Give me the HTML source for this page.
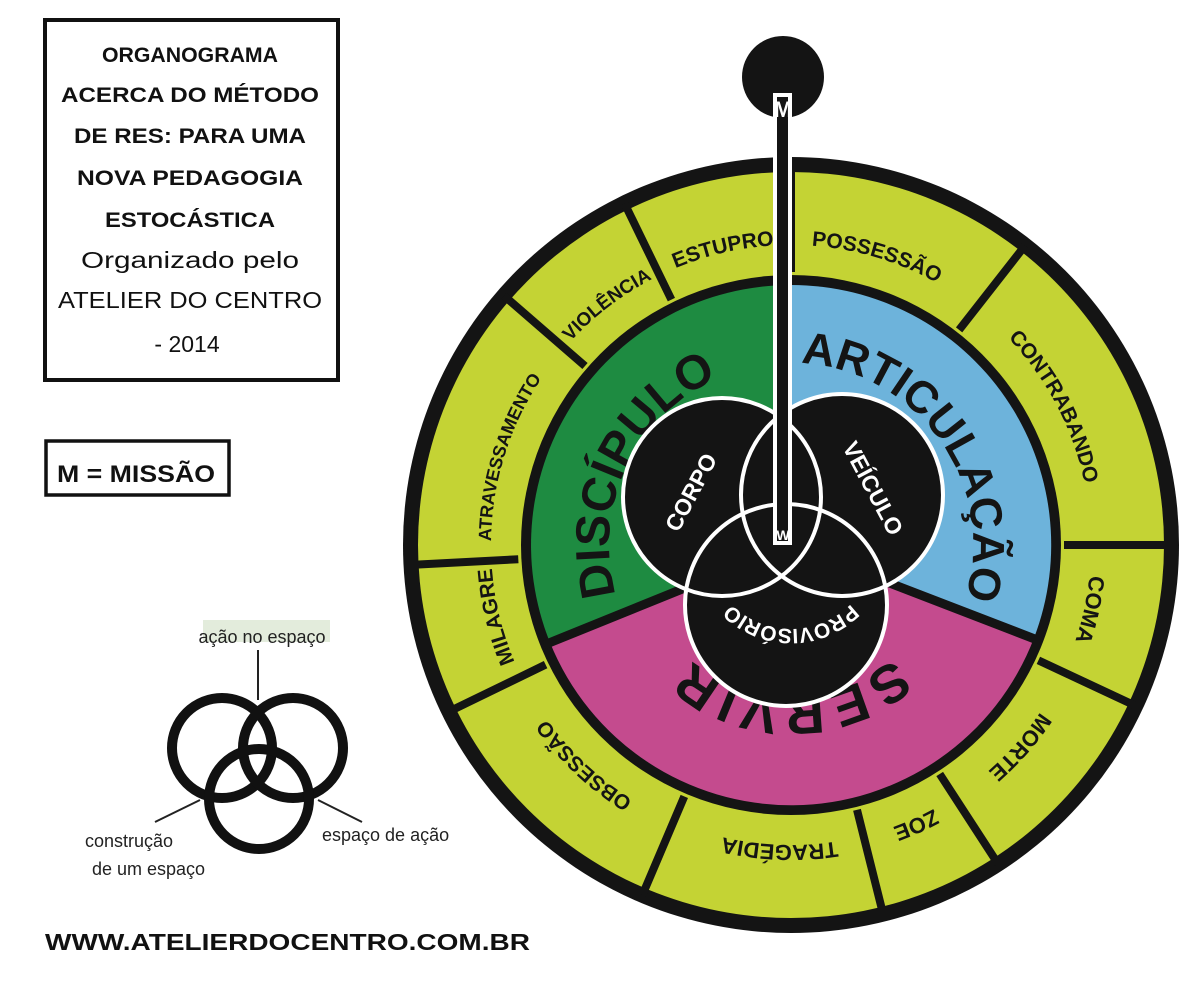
<!DOCTYPE html>
<html><head><meta charset="utf-8"><style>
html,body{margin:0;padding:0;background:#fff;}
svg{display:block;}
text{font-family:"Liberation Sans",sans-serif;}
</style></head><body>
<svg width="1200" height="982" viewBox="0 0 1200 982" xmlns="http://www.w3.org/2000/svg">
<defs>
<path id="r300" d="M1091,545 A300,300 0 1 1 491,545 A300,300 0 1 1 1091,545"/>
<path id="r300b" d="M491,545 A300,300 0 1 1 1091,545 A300,300 0 1 1 491,545"/>
<path id="r182" d="M973,545 A182,182 0 1 1 609,545 A182,182 0 1 1 973,545"/>
<path id="r182b" d="M609,545 A182,182 0 1 1 973,545 A182,182 0 1 1 609,545"/>
<path id="r152" d="M943,545 A152,152 0 1 1 639,545 A152,152 0 1 1 943,545"/>
<path id="r84" d="M875,545 A84,84 0 1 1 707,545 A84,84 0 1 1 875,545"/>
</defs>
<rect width="1200" height="982" fill="#fff"/>

<!-- Left title box -->
<rect x="45" y="20" width="293" height="360" fill="none" stroke="#111" stroke-width="4"/>
<g font-weight="bold" font-size="21" text-anchor="middle" fill="#111">
<text x="190" y="62" textLength="176" lengthAdjust="spacingAndGlyphs">ORGANOGRAMA</text>
<text x="190" y="102" textLength="258" lengthAdjust="spacingAndGlyphs">ACERCA DO MÉTODO</text>
<text x="190" y="143" textLength="232" lengthAdjust="spacingAndGlyphs">DE RES: PARA UMA</text>
<text x="190" y="185" textLength="226" lengthAdjust="spacingAndGlyphs">NOVA PEDAGOGIA</text>
<text x="190" y="227" textLength="170" lengthAdjust="spacingAndGlyphs">ESTOCÁSTICA</text>
</g>
<g font-size="23" text-anchor="middle" fill="#111">
<text x="190" y="268" textLength="218" lengthAdjust="spacingAndGlyphs">Organizado pelo</text>
<text x="190" y="308" textLength="264" lengthAdjust="spacingAndGlyphs">ATELIER DO CENTRO</text>
<text x="187" y="352">- 2014</text>
</g>
<rect x="46" y="441" width="183" height="54" fill="none" stroke="#111" stroke-width="3.5"/>
<text x="57" y="482" font-size="24" font-weight="bold" fill="#111" textLength="158" lengthAdjust="spacingAndGlyphs">M = MISSÃO</text>

<!-- small venn -->
<rect x="203" y="620" width="127" height="22" fill="#e3ecdc"/>
<text x="262" y="643" font-size="18" text-anchor="middle" fill="#222">ação no espaço</text>
<line x1="258" y1="650" x2="258" y2="700" stroke="#222" stroke-width="2"/>
<line x1="155" y1="822" x2="200" y2="800" stroke="#222" stroke-width="2"/>
<line x1="362" y1="822" x2="318" y2="800" stroke="#222" stroke-width="2"/>
<g fill="none" stroke="#111" stroke-width="10">
<circle cx="222" cy="748" r="50"/>
<circle cx="293" cy="748" r="50"/>
<circle cx="259" cy="799" r="50"/>
</g>
<g font-size="18" fill="#222">
<text x="85" y="847">construção</text>
<text x="92" y="875">de um espaço</text>
<text x="322" y="841">espaço de ação</text>
</g>
<text x="45" y="950" font-size="23" font-weight="bold" fill="#111" textLength="485" lengthAdjust="spacingAndGlyphs">WWW.ATELIERDOCENTRO.COM.BR</text>

<!-- Wheel -->
<circle cx="791" cy="545" r="388" fill="#141414"/>
<circle cx="791" cy="545" r="373" fill="#c4d334"/>
<circle cx="791" cy="545" r="270" fill="#141414"/>
<path d="M791,545 L550,642.5 A260,260 0 0 1 791,285 Z" fill="#1e8b41"/>
<path d="M791,545 L791,285 A260,260 0 0 1 1034,638 Z" fill="#6db3db"/>
<path d="M791,545 L1034,638 A260,260 0 0 1 550,642.5 Z" fill="#c44b8e"/>
<g stroke="#141414" stroke-width="9">
<line x1="791" y1="545" x2="544" y2="645"/>
<line x1="791" y1="545" x2="1040" y2="641"/>
</g>
<!-- radial lines in ring -->
<g stroke="#141414" stroke-width="8">
<line x1="671.4" y1="299.6" x2="624.5" y2="203.4"/>
<line x1="791" y1="272" x2="791" y2="165"/>
<line x1="959.1" y1="329.9" x2="1025" y2="245.6"/>
<line x1="1064" y1="545" x2="1171" y2="545"/>
<line x1="1038.4" y1="660.4" x2="1135.4" y2="705.7"/>
<line x1="939.7" y1="774" x2="998" y2="863.8"/>
<line x1="857" y1="809.8" x2="883" y2="913.6"/>
<line x1="684.3" y1="796.4" x2="642.4" y2="895"/>
<line x1="545.6" y1="664.6" x2="449.4" y2="711.4"/>
<line x1="518.3" y1="559.2" x2="411.5" y2="564.9"/>
<line x1="585" y1="366" x2="504" y2="295.7"/>
</g>
<!-- ring labels -->
<g font-size="21" font-weight="bold" fill="#141414" text-anchor="middle">
<text><textPath href="#r300" startOffset="71.4%">ESTUPRO</textPath></text>
<text><textPath href="#r300" startOffset="79.6%">POSSESSÃO</textPath></text>
<text><textPath href="#r300" startOffset="92.3%">CONTRABANDO</textPath></text>
<text font-size="22"><textPath href="#r300" startOffset="3.4%">COMA</textPath></text>
<text font-size="22"><textPath href="#r300" startOffset="11.5%">MORTE</textPath></text>
<text font-size="22"><textPath href="#r300" startOffset="18.3%">ZOE</textPath></text>
<text font-size="22"><textPath href="#r300" startOffset="25.6%">TRAGÉDIA</textPath></text>
<text><textPath href="#r300" startOffset="37%">OBSESSÃO</textPath></text>
<text><textPath href="#r300" startOffset="46.2%">MILAGRE</textPath></text>
<text font-size="18"><textPath href="#r300" startOffset="54.8%">ATRAVESSAMENTO</textPath></text>
<text font-size="19"><textPath href="#r300" startOffset="64.6%">VIOLÊNCIA</textPath></text>
</g>
<g font-size="48" font-weight="bold" fill="#141414" text-anchor="middle">
<text><textPath href="#r182" startOffset="57%">DISCÍPULO</textPath></text>
<text font-size="45"><textPath href="#r182b" startOffset="40.3%">ARTICULAÇÃO</textPath></text>
</g>
<text font-size="54" font-weight="bold" fill="#141414" text-anchor="middle" letter-spacing="4"><textPath href="#r152" startOffset="25%">SERVIR</textPath></text>

<!-- inner circles -->
<g fill="#141414">
<circle cx="722" cy="497" r="99"/>
<circle cx="842" cy="495" r="101"/>
<circle cx="786" cy="605" r="101"/>
</g>
<g fill="none" stroke="#fff" stroke-width="4">
<circle cx="722" cy="497" r="99"/>
<circle cx="842" cy="495" r="101"/>
<circle cx="786" cy="605" r="101"/>
</g>
<g font-size="23" font-weight="bold" fill="#fff" text-anchor="middle">
<text transform="translate(698,496) rotate(-62)">CORPO</text>
<text transform="translate(866,492) rotate(62)">VEÍCULO</text>
<text font-size="21"><textPath href="#r84" startOffset="25%">PROVISÓRIO</textPath></text>
</g>

<!-- pointer -->
<circle cx="783" cy="77" r="41" fill="#141414"/>
<rect x="775" y="95" width="15" height="448" fill="#141414" stroke="#fff" stroke-width="4"/>
<text x="783" y="117" font-size="22" font-weight="bold" fill="#fff" text-anchor="middle">M</text>
<text x="783" y="540" font-size="14" font-weight="bold" fill="#fff" text-anchor="middle">W</text>
</svg>
</body></html>
